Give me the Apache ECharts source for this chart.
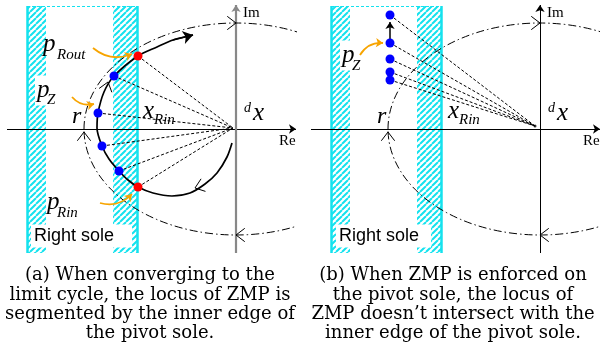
<!DOCTYPE html>
<html>
<head>
<meta charset="utf-8">
<script src="https://cdn.jsdelivr.net/npm/echarts@6/dist/echarts.min.js"></script>
<style>
  html, body { margin: 0; background: #fff; }
  #main { width: 602px; height: 354px; }
</style>
</head>
<body>
<div id="main"></div>
<script>
// diagram units (about 1px each), origin where Re and Im cross
const soleStrips = [[-209, -190], [-123, -99]];
const soleEdgeX = [-209, -99];
const soleSpan = [-124, 123];
const reAxis = [-229, 60];
const imAxis = [-124, 124];
const cycleRadius = [152, 106];
const cycleArrows = [[0, 106, 1, 0], [0, -106, -1, 0], [-152, -3, 0, 1]];

// (a) ZMP locus, in order of travel
const locusA = [[-4, -14], [-9, -28], [-19, -44], [-31, -55], [-46, -64], [-64, -67], [-83, -64],
  [-98, -58], [-108, -51], [-117, -42], [-127, -30], [-134, -17], [-139, 1], [-138, 16],
  [-132, 37], [-122, 53], [-98, 73], [-79, 82], [-63, 89], [-43, 94]];
const locusArrows = [[-41, -59, -1, -0.35], [-128, 47, 0.3, 1]];
const zmpA = [[-122, 53], [-138, 16], [-134, -17], [-117, -42]];
const edgeA = [[-98, 73], [-98, -58]];
const hubA = [-3, 1];
const pointersA = [[[-143, 81], [-104, 75]], [[-164, 32], [-142, 25]], [[-136, -74], [-104, -65]]];

// (b) ZMP enforced on the pivot sole
const zmpB = [[-150, 114], [-150, 86], [-150, 70], [-150, 57], [-150, 49]];
const hubB = [-5, 3];
const pointersB = [[[-180, 74], [-157, 86]]];
const riseB = [[-150, 86], [-150, 107]];

const captionA = ['(a) When converging to the', 'limit cycle, the locus of ZMP is',
  'segmented by the inner edge of', 'the pivot sole.'];
const captionB = ['(b) When ZMP is enforced on', 'the pivot sole, the locus of',
  'ZMP doesn\u2019t intersect with the', 'inner edge of the pivot sole.'];

const cyan = '#14e2ee';
const orange = '#f7a400';

const hatch = document.createElement('canvas');
hatch.width = hatch.height = 6;
const g = hatch.getContext('2d');
g.strokeStyle = cyan;
g.lineWidth = 2;
g.beginPath();
[-6, 0, 6].forEach(o => { g.moveTo(o, 6); g.lineTo(o + 6, 0); });
g.stroke();

function chevron(params, api) {
  const tip = api.coord([api.value(0), api.value(1)]);
  const back = api.coord([api.value(0) - api.value(2) * 10, api.value(1) - api.value(3) * 10]);
  const a = Math.atan2(tip[1] - back[1], tip[0] - back[0]);
  const L = 11, s = 0.65;
  return {
    type: 'polyline',
    shape: {points: [
      [tip[0] - L * Math.cos(a - s), tip[1] - L * Math.sin(a - s)], tip,
      [tip[0] - L * Math.cos(a + s), tip[1] - L * Math.sin(a + s)]]},
    style: {stroke: '#000', lineWidth: 1, fill: 'none'}
  };
}

function panel(i, o) {
  const ax = {xAxisIndex: i, yAxisIndex: i, silent: true};
  const seg = (coords) => ({coords: coords});
  const list = [
    {type: 'custom', ...ax, z: 1, data: soleStrips,
      renderItem(params, api) {
        const p0 = api.coord([api.value(0), soleSpan[1]]);
        const p1 = api.coord([api.value(1), soleSpan[0]]);
        return {type: 'rect', shape: {x: p0[0], y: p0[1], width: p1[0] - p0[0], height: p1[1] - p0[1]},
          style: {fill: {image: hatch, repeat: 'repeat'}}};
      }},
    {type: 'lines', ...ax, coordinateSystem: 'cartesian2d', z: 2,
      data: soleEdgeX.map(x => seg([[x, soleSpan[1]], [x, soleSpan[0]]])),
      lineStyle: {color: cyan, width: 2.5, opacity: 1}},
    {type: 'lines', ...ax, coordinateSystem: 'cartesian2d', z: 2,
      data: [seg([[soleEdgeX[0], soleSpan[1]], [soleEdgeX[1], soleSpan[1]]])],
      lineStyle: {color: cyan, width: 1, type: [3, 2], opacity: 1}},
    {type: 'lines', ...ax, coordinateSystem: 'cartesian2d', z: 3,
      data: [seg([[reAxis[0], 0], [reAxis[1], 0]])],
      symbol: ['none', 'arrow'], symbolSize: 7,
      lineStyle: {color: '#000', width: 1, opacity: 1}},
    {type: 'lines', ...ax, coordinateSystem: 'cartesian2d', z: 3,
      data: [seg([[0, imAxis[0]], [0, imAxis[1]]])],
      symbol: ['none', 'arrow'], symbolSize: 7,
      lineStyle: {color: o.imColor, width: o.imWidth, opacity: 1}},
    {type: 'custom', ...ax, z: 3, clip: true, data: [[0, 0, cycleRadius[0], cycleRadius[1]]],
      renderItem(params, api) {
        const c = api.coord([api.value(0), api.value(1)]);
        const r = api.size([api.value(2), api.value(3)]);
        const d = 'M ' + (c[0] - r[0]) + ' ' + c[1] +
          ' A ' + r[0] + ' ' + r[1] + ' 0 1 1 ' + (c[0] + r[0]) + ' ' + c[1] +
          ' A ' + r[0] + ' ' + r[1] + ' 0 1 1 ' + (c[0] - r[0]) + ' ' + c[1];
        return {type: 'path', shape: {pathData: d},
          style: {fill: 'none', stroke: '#000', lineWidth: 1, lineDash: [8, 3, 1.5, 3]}};
      }},
    {type: 'custom', ...ax, z: 4, data: o.chevrons, renderItem: chevron},
    {type: 'lines', ...ax, coordinateSystem: 'cartesian2d', z: 3,
      data: o.points.map(p => seg([p, o.hub])),
      lineStyle: {color: '#000', width: 1, type: [3, 2], opacity: 1}},
    {type: 'lines', ...ax, coordinateSystem: 'cartesian2d', z: 5,
      data: o.pointers.map(seg),
      symbol: ['none', 'arrow'], symbolSize: 7,
      lineStyle: {color: orange, width: 1.8, curveness: o.curve, opacity: 1}},
    {type: 'scatter', ...ax, z: 6, data: o.zmp, symbolSize: 9,
      itemStyle: {color: '#0000ff', opacity: 1}}
  ];
  return list.concat(o.extra);
}

const series = panel(0, {
  imColor: '#888', imWidth: 2.2,
  chevrons: cycleArrows.concat(locusArrows),
  points: zmpA.concat(edgeA), hub: hubA,
  pointers: pointersA, curve: -0.3, zmp: zmpA,
  extra: [
    {type: 'line', xAxisIndex: 0, yAxisIndex: 0, z: 4, data: locusA, smooth: 0.3,
      symbol: 'none', lineStyle: {color: '#000', width: 1.7}},
    {type: 'lines', xAxisIndex: 0, yAxisIndex: 0, coordinateSystem: 'cartesian2d', z: 4,
      data: [{coords: locusA.slice(-2)}], symbol: ['none', 'arrow'], symbolSize: 10,
      lineStyle: {color: '#000', width: 1.7, opacity: 1}},
    {type: 'scatter', xAxisIndex: 0, yAxisIndex: 0, z: 6, data: edgeA, symbolSize: 9,
      itemStyle: {color: '#ff0000', opacity: 1}}
  ]
}).concat(panel(1, {
  imColor: '#000', imWidth: 1,
  chevrons: cycleArrows,
  points: zmpB, hub: hubB,
  pointers: pointersB, curve: 0.3, zmp: zmpB,
  extra: [
    {type: 'lines', xAxisIndex: 1, yAxisIndex: 1, coordinateSystem: 'cartesian2d', z: 5,
      data: [{coords: riseB}], symbol: ['none', 'arrow'], symbolSize: 7,
      lineStyle: {color: '#000', width: 1.5, opacity: 1}},
    {type: 'scatter', xAxisIndex: 1, yAxisIndex: 1, z: 6, data: [hubB], symbolSize: 3,
      itemStyle: {color: '#000'}}
  ]
}));

function tex(text, x, base, size, opts) {
  opts = opts || {};
  return {
    type: 'text', x: x, y: base - 0.34 * size, z: 20, silent: true,
    style: Object.assign({
      text: text, fill: '#000',
      font: (opts.upright ? '' : 'italic ') + size + 'px "Liberation Serif"',
      textAlign: 'left', align: 'left', textVerticalAlign: 'middle', verticalAlign: 'middle'
    }, opts.style || {})
  };
}
const whiteBg = {style: {backgroundColor: '#fff', padding: [2, 3, 3, 2]}};

function caption(lines, cx) {
  return {
    type: 'text', x: cx, y: 266, z: 20, silent: true,
    style: {text: lines.join('\n'), font: '18px "DejaVu Serif"', fill: '#000', lineHeight: 19.3,
      textAlign: 'center', align: 'center', textVerticalAlign: 'top', verticalAlign: 'top'}
  };
}

function sole(x, w) {
  return {
    type: 'text', x: x, y: 236, z: 20, silent: true,
    style: {text: 'Right sole', font: '18px "Liberation Sans"', fill: '#000',
      backgroundColor: '#fff', padding: [3, 4, 2, 3], width: w,
      textAlign: 'left', align: 'left', textVerticalAlign: 'middle', verticalAlign: 'middle'}
  };
}

const chart = echarts.init(document.getElementById('main'));
chart.setOption({
  animation: false,
  backgroundColor: '#fff',
  grid: [
    {left: 0, top: 0, width: 297, height: 260},
    {left: 304, top: 0, width: 296, height: 260}
  ],
  xAxis: [
    {type: 'value', gridIndex: 0, min: -236, max: 61, show: false},
    {type: 'value', gridIndex: 1, min: -236, max: 60, show: false}
  ],
  yAxis: [
    {type: 'value', gridIndex: 0, min: -131, max: 129, show: false},
    {type: 'value', gridIndex: 1, min: -131, max: 129, show: false}
  ],
  series: series,
  graphic: [
    tex('p', 43, 53, 25), tex('Rout', 57, 60, 15),
    tex('p', 35, 99, 25, whiteBg), tex('Z', 47, 105, 15),
    tex('p', 47, 211, 25), tex('Rin', 57, 218, 15),
    tex('r', 72, 125, 24), tex('x', 143, 120, 25), tex('Rin', 154, 125, 15),
    tex('d', 244, 113, 14), tex('x', 253, 122, 25),
    tex('Im', 243, 18, 15, {upright: true}), tex('Re', 279, 146, 15, {upright: true}),
    sole(31, 94),
    tex('p', 340, 64, 25, whiteBg), tex('Z', 352, 71, 15),
    tex('r', 377, 125, 24), tex('x', 448, 120, 25), tex('Rin', 459, 125, 15),
    tex('d', 548, 113, 14), tex('x', 557, 122, 25),
    tex('Im', 547, 18, 15, {upright: true}), tex('Re', 583, 146, 15, {upright: true}),
    sole(336, 88),
    caption(captionA, 150), caption(captionB, 453)
  ]
});
</script>
</body>
</html>
